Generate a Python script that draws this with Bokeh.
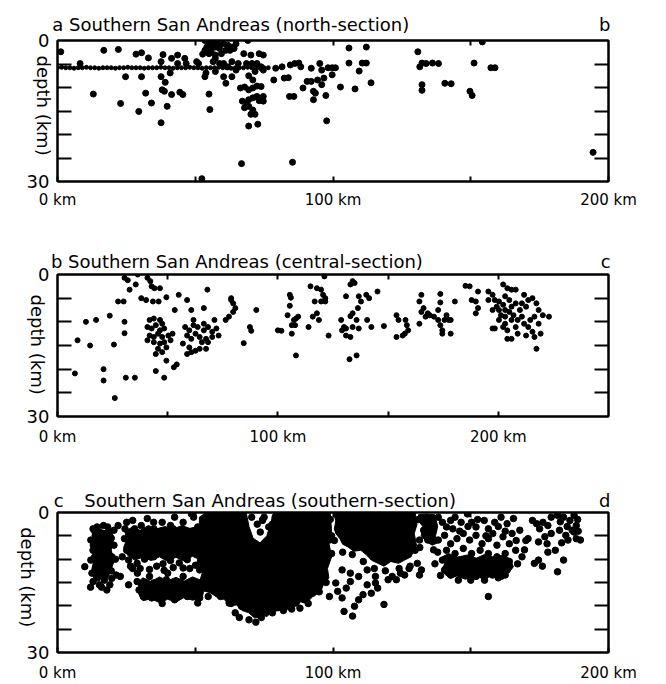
import math
from bokeh.plotting import figure
from bokeh.layouts import column
from bokeh.models import Range1d, FixedTicker, LinearAxis
from bokeh.embed import file_html
from bokeh.resources import INLINE

# ---------------- data (distance along section in km, depth in km) ----------------
# panel a : north section
a_km = [1.2, 8.2, 13.0, 16.8, 22.1, 22.9, 24.7, 28.5, 30.5, 33.0, 30.5, 32.0, 29.5, 34.1, 37.6, 37.6, 37.6, 38.3, 38.0, 39.1,
        38.8, 39.8, 40.9, 41.4, 41.4, 43.6, 43.6, 44.4, 46.2, 45.5, 46.7, 50.5, 51.2, 52.7, 53.5, 53.9, 55.0, 55.3, 52.4,
        53.5, 55.0, 56.5, 58.0, 54.2, 55.8, 57.3, 58.8, 60.3, 61.8, 63.3, 62.6, 59.5, 57.3, 55.0, 53.5, 55.8, 58.8, 61.1, 64.8, 64.1, 69.1,
        56.5, 57.3, 58.8, 60.3, 61.8, 63.3, 64.8, 65.6, 57.3, 60.3, 61.1, 63.3,
        67.6, 68.6, 70.2, 70.6, 71.7, 72.4, 73.2, 74.7, 73.9, 74.7, 69.4, 70.9,
        66.4, 67.9, 69.4, 70.9, 72.4, 73.9, 67.1, 68.6, 69.4, 70.9, 72.4, 73.2, 74.7, 74.7, 67.9, 69.4, 70.9, 70.2, 71.7, 66.8, 69.4, 72.7,
        78.5, 79.2, 81.5, 82.3, 83.8, 84.2, 85.8, 85.3, 84.5, 86.1, 87.6, 88.3, 89.1, 90.6, 92.1, 92.1, 92.9, 92.9, 93.6, 94.4,
        95.2, 95.9, 96.7, 97.4, 95.9, 98.2, 99.7, 100.9, 99.7, 97.7,
        102.7, 105.8, 105.8, 108.0, 109.5, 110.6, 112.1, 112.1, 113.8,
        130.8, 131.5, 132.3, 132.3, 132.3, 133.8, 136.1, 138.3, 140.6, 142.9, 149.7, 150.5, 151.2, 157.3, 158.8, 154.2, 194.4]
a_depth = [2.4, 4.9, 11.4, 2.1, 1.9, 13.4, 7.7, 2.9, 2.6, 3.7, 7.7, 11.2, 15.1, 13.3, 4.5, 7.7, 17.5, 3.0, 10.5, 8.9,
           10.8, 14.0, 6.9, 3.8, 11.5, 3.1, 4.9, 11.0, 3.8, 11.5, 4.9, 4.5, 4.9, 2.9, 7.7, 6.9, 11.4, 14.7, 29.4,
           0.0, 0.3, 0.7, 0.1, 1.4, 1.7, 1.4, 1.0, 0.7, 1.0, 1.4, 2.1, 2.8, 3.1, 2.8, 2.1, 2.4, 1.7, 2.1, 0.7, 1.7, 0.0,
           4.5, 3.8, 4.9, 4.9, 5.6, 4.5, 6.3, 4.9, 6.6, 7.7, 9.1, 7.7,
           2.8, 4.9, 3.1, 4.9, 6.6, 4.9, 2.8, 3.1, 5.6, 6.3, 7.5, 8.4,
           10.1, 9.9, 10.5, 10.1, 9.7, 9.8, 12.9, 13.3, 12.6, 12.2, 11.9, 12.8, 11.9, 12.9, 14.3, 14.0, 14.8, 15.7, 15.7, 26.2, 18.2, 17.8,
           8.4, 5.9, 5.6, 8.0, 7.9, 11.9, 11.9, 25.9, 5.2, 4.9, 4.8, 5.6, 10.1, 8.7, 8.7, 5.9, 10.8, 12.6, 11.2, 8.4,
           4.9, 6.3, 8.0, 11.7, 9.4, 5.8, 5.8, 5.8, 7.3, 17.1,
           9.9, 1.6, 4.8, 10.3, 6.5, 4.8, 4.8, 1.4, 9.0,
           2.4, 5.6, 9.4, 10.6, 4.8, 4.9, 4.8, 4.9, 9.1, 9.2, 10.8, 11.7, 4.8, 5.8, 5.8, 0.3, 23.8]
# the band of events fixed at ~5.8 km depth (panel a)
a_band_km = [0, 1.5, 3, 4.5, 6, 7.5, 9, 10.5, 12, 13.5, 15, 16.5, 18, 19.5, 21, 22.5, 24, 25.5, 27, 28.5,
             30, 31.5, 33, 34.5, 36, 37.5, 39, 40.5, 42, 43.5, 45, 46.5, 48, 49.5, 51, 52.5, 54, 55.5, 57, 58.5,
             60, 61.5, 63, 64.5, 66, 67.5, 69, 70.5, 72, 73.5, 75, 76.5]
a_band_depth = [5.8, 5.7, 5.8, 5.8, 5.9, 5.8, 5.8, 5.7, 5.8, 5.8, 5.9, 5.8, 5.8, 5.8, 5.9, 5.8, 5.8, 5.7, 5.8, 5.8,
                5.8, 5.9, 5.8, 5.8, 5.8, 5.7, 5.8, 5.8, 5.9, 5.8, 5.8, 5.8, 5.7, 5.8, 5.8, 5.9, 5.8, 5.8, 5.8, 5.7,
                5.8, 5.8, 5.9, 5.8, 5.8, 5.8, 5.7, 5.8, 5.8, 5.9, 5.8, 5.8]

# panel b : central section
b_km = [7.9, 9.1, 12.9, 14.8, 17.5, 20.9, 20.9, 23.7, 25.6, 26.0, 27.5, 30.0, 30.4, 30.4, 31.0, 35.1,
        30.4, 31.9, 32.7, 35.5, 36.4, 40.8, 42.1, 42.7, 44.0, 46.5, 38.0, 40.2, 43.3, 45.9, 49.4,
        41.8, 43.7, 46.5, 47.5, 40.8, 42.7, 44.6, 46.5, 48.4, 41.8, 43.7, 45.6, 47.5, 50.3, 40.8, 43.7, 46.5, 48.4, 45.6, 47.5, 44.6, 49.4, 51.3, 52.2,
        53.2, 55.0, 58.8, 60.7, 68.0, 66.4,
        57.9, 59.8, 61.7, 63.6, 58.8, 60.7, 62.6, 64.5, 66.4, 68.3, 70.2, 72.1, 71.2, 73.1, 67.4, 65.5, 68.3, 56.9, 59.8, 58.8,
        60.7, 62.6, 64.5, 67.4, 66.4, 61.7, 70.2,
        44.6, 48.4, 52.8, 54.1, 49.4,
        76.3, 78.8, 79.7, 80.7, 79.7, 77.8, 78.8, 84.5, 87.3, 87.9, 90.2, 100.0, 101.6, 105.4, 105.9, 105.4, 104.4, 107.3, 108.2, 106.3,
        107.8, 109.2, 106.3, 108.2,
        114.8, 117.7, 119.6, 116.7, 119.6, 121.5, 121.1, 120.5, 121.5, 115.8, 117.7, 118.6, 113.9, 123.0, 128.7, 130.0, 129.1, 130.9, 130.9, 132.9,
        132.9, 133.9, 130.9, 132.9, 133.9, 134.8, 136.7, 137.7, 136.3, 135.7, 136.7, 133.9, 140.5, 142.4, 140.1, 141.4, 145.2, 148.1, 132.5, 135.7,
        153.8, 154.7, 153.8, 157.6, 157.9, 158.5, 159.1, 156.6, 164.2, 165.1, 166.1, 164.2, 168.0, 168.9, 170.8, 172.7, 173.7, 174.6, 175.6, 176.5,
        177.5, 172.7, 173.7, 173.7, 180.3, 174.6, 178.4, 178.4, 167.0, 165.1,
        185.1, 187.0, 190.8, 187.9, 189.8, 190.8, 189.8, 195.5, 197.4, 198.4, 199.3, 197.4, 202.2, 204.1, 206.0, 207.9, 203.1, 205.0, 202.2, 200.3,
        201.2, 203.1, 205.0, 206.0, 203.1, 200.3, 198.4, 204.1, 207.9, 208.8, 210.7, 212.6, 213.6, 211.7, 215.5, 217.3, 218.3, 216.4, 214.5, 213.6,
        215.5, 212.6, 216.4, 219.2, 218.3, 220.2, 223.0, 217.3, 206.0, 208.8, 211.7, 202.2, 206.0, 207.9, 210.7, 200.3, 203.1, 206.9, 209.8, 195.5,
        204.1, 197.4]
b_depth = [20.9, 13.9, 10.0, 15.0, 9.6, 20.0, 22.4, 8.7, 14.8, 26.1, 5.7, 5.7, 10.0, 12.4, 21.8, 21.8,
           0.7, 1.2, 3.2, 2.1, 0.0, 0.7, 1.4, 2.5, 2.9, 2.9, 5.0, 5.4, 5.7, 5.7, 4.8,
           9.6, 9.3, 9.6, 10.4, 11.1, 11.4, 10.7, 11.8, 11.4, 12.9, 13.2, 12.5, 13.2, 12.9, 13.9, 14.3, 14.6, 14.3, 15.7, 16.4, 16.8, 15.4, 13.9, 12.5,
           7.5, 4.3, 5.4, 7.5, 3.2, 7.1,
           11.1, 11.8, 10.7, 11.1, 12.9, 13.6, 12.5, 13.2, 11.8, 11.1, 12.1, 11.4, 9.6, 12.9, 13.6, 14.3, 14.3, 14.6, 15.4, 16.8,
           16.4, 16.1, 15.7, 15.7, 10.4, 9.6, 13.2,
           20.4, 21.8, 19.6, 19.0, 18.2,
           9.6, 5.4, 6.1, 7.1, 7.9, 8.9, 5.0, 14.5, 11.1, 11.9, 7.5, 11.8, 11.9, 4.3, 4.9, 6.6, 8.6, 9.6, 9.3, 10.7,
           10.7, 8.9, 12.5, 17.1,
           2.5, 2.9, 3.2, 5.7, 5.7, 5.7, 0.4, 4.3, 5.0, 8.9, 8.2, 9.6, 11.1, 12.9, 9.6, 11.1, 11.8, 11.4, 12.9, 13.2,
           8.8, 8.2, 4.6, 2.1, 1.4, 1.8, 4.6, 5.7, 7.1, 9.6, 11.4, 11.1, 9.6, 11.1, 4.3, 5.0, 3.6, 10.9, 17.9, 17.1,
           8.6, 9.6, 13.2, 12.5, 9.6, 10.7, 11.8, 12.9, 5.7, 7.9, 7.1, 10.4, 8.2, 8.6, 8.9, 9.6, 10.7, 11.8, 9.6, 8.6,
           9.6, 7.5, 5.9, 4.1, 5.7, 12.5, 12.5, 9.6, 8.9, 4.3,
           2.4, 2.5, 3.6, 5.4, 5.7, 7.1, 8.2, 3.6, 4.3, 5.4, 6.8, 7.5, 2.1, 2.9, 3.2, 3.2, 4.6, 5.4, 6.4, 7.5,
           8.6, 8.9, 7.9, 9.6, 10.4, 9.6, 11.4, 11.8, 11.1, 9.6, 8.9, 6.8, 5.4, 4.3, 5.0, 6.1, 7.5, 8.9, 9.6, 11.1,
           12.1, 12.9, 13.2, 12.5, 10.4, 8.6, 8.9, 15.7, 13.6, 12.5, 10.4, 11.1, 6.8, 6.1, 6.1, 5.7, 7.5, 8.6, 7.5, 5.4,
           13.6, 11.4]

# panel c : southern section (individual events)
c_km = [9.9, 12.9, 14.4, 16.7, 18.2, 13.7, 15.9, 12.1, 14.4, 16.7, 12.9, 15.2, 17.5, 12.1, 14.4, 16.7, 13.7, 15.9, 18.2, 12.9,
        15.2, 17.9, 19.7, 21.3, 22.8, 20.5, 22.0, 18.2, 19.7, 25.8,
        25.1, 27.3, 30.4, 32.6, 34.9, 38.0, 41.0, 42.5, 45.6, 48.6, 49.4, 50.9, 53.2,
        24.3, 27.1, 30.6, 33.2, 36.5, 39.3, 42.7, 45.4, 48.8, 51.5, 53.9,
        25.1, 27.6, 30.1, 33.7, 36.2, 39.8, 42.3, 45.9, 48.2, 51.9, 25.8, 28.9, 31.6, 34.9, 38.3, 41.0, 44.2, 47.1, 50.1, 53.2,
        27.3, 33.4, 38.7, 45.6, 51.6,
        29.6, 31.1, 34.2, 38.0, 42.5, 47.1, 51.6, 50.9, 54.7, 28.9, 33.4, 39.5, 45.6, 53.2, 34.9, 42.5, 48.6,
        56.2, 59.2, 62.3, 57.7, 60.7, 63.8, 59.2, 62.3, 64.5, 66.8, 69.1, 71.4, 72.9, 54.7, 57.7, 66.8, 68.3,
        79.0, 82.0, 85.0, 88.1, 91.1, 94.2, 97.2, 80.5, 86.6, 92.6, 97.2, 77.4, 98.7, 75.9, 99.5, 74.4, 76.7, 73.6,
        77.4, 80.5, 83.5, 86.6, 89.6, 92.6, 85.0, 75.9,
        98.7, 101.0, 101.7, 103.3, 104.8, 106.3, 104.0, 107.1, 107.8, 109.3, 110.9, 112.4, 113.9, 115.4, 116.2, 118.5, 120.0, 121.5, 123.0, 124.5,
        126.0, 127.6, 103.3, 106.3, 109.3, 112.4, 115.4, 130.6, 131.4, 132.1, 129.8, 131.4, 132.9,
        134.4, 135.2, 134.4, 135.9, 138.2, 139.7, 141.2, 142.7, 144.3, 146.5, 148.8, 150.3, 151.9, 154.9, 156.4, 158.7, 161.0, 163.2, 165.5, 167.8,
        138.2, 140.5, 142.7, 145.0, 147.3, 149.6, 151.9, 154.1, 156.4, 159.5, 161.7, 164.0, 166.3, 168.6,
        141.2, 144.3, 147.3, 150.3, 153.4, 156.4, 159.5, 162.5,
        139.7, 142.7, 145.8, 148.8, 151.9, 154.9, 157.9, 161.0, 164.0,
        140.5, 142.7, 145.8, 148.8, 151.9, 154.9, 157.9, 161.0, 163.2, 156.4, 162.5,
        172.4, 173.9, 176.2, 179.2, 181.5, 183.7, 186.0, 187.5, 188.3, 186.8, 184.5, 182.2, 179.2, 176.9, 174.6, 177.7, 180.7, 185.3, 188.3, 189.8,
        173.1, 174.6, 181.5, 183.7, 170.8]
c_depth = [11.6, 3.5, 3.1, 2.8, 3.1, 4.9, 4.5, 5.9, 6.7, 5.9, 8.1, 8.8, 8.1, 10.2, 10.9, 10.2, 12.3, 13.4, 12.3, 14.8,
           15.5, 16.6, 14.1, 13.4, 13.7, 3.8, 2.8, 7.4, 9.5, 15.5,
           2.1, 1.7, 2.8, 1.3, 2.1, 2.1, 2.8, 1.0, 2.1, 0.3, 1.0, 3.1, 2.1,
           5.6, 5.5, 5.7, 5.6, 5.5, 5.6, 5.7, 5.6, 5.5, 5.8, 5.6,
           8.1, 8.9, 7.8, 8.6, 8.3, 9.0, 7.9, 8.7, 8.2, 8.9, 10.2, 10.9, 10.0, 9.5, 11.0, 10.3, 10.8, 10.1, 11.3, 10.2,
           12.0, 12.2, 12.4, 11.9, 12.3,
           16.6, 18.0, 18.3, 19.5, 18.7, 18.0, 18.3, 19.4, 18.0, 14.8, 13.7, 14.4, 13.7, 14.8, 15.1, 15.9, 16.6,
           11.6, 12.3, 13.7, 14.4, 15.9, 17.3, 18.0, 19.4, 21.5, 20.1, 18.7, 20.8, 21.9, 13.7, 16.6, 16.6, 15.1,
           1.0, 0.6, 1.7, 0.3, 1.0, 1.7, 0.6, 3.1, 3.8, 3.5, 3.8, 5.9, 5.9, 8.1, 8.8, 1.7, 3.1, 4.2,
           18.0, 19.0, 20.1, 19.4, 18.7, 17.3, 20.7, 20.1,
           18.0, 15.1, 16.9, 18.3, 16.2, 14.8, 21.2, 22.2, 20.1, 18.7, 17.6, 15.5, 17.3, 15.1, 16.2, 19.7, 14.4, 13.7, 14.4, 13.0,
           13.4, 12.0, 12.3, 13.0, 13.7, 12.3, 13.7, 10.9, 13.4, 12.3, 8.1, 5.9, 3.8,
           1.7, 3.8, 5.9, 4.5, 1.0, 2.1, 3.1, 1.7, 1.0, 2.1, 0.3, 2.1, 3.1, 1.7, 3.5, 2.1, 1.0, 2.4, 1.3, 3.8,
           5.9, 4.9, 6.7, 5.6, 4.5, 5.9, 4.9, 6.7, 5.6, 7.0, 5.2, 6.7, 8.1, 9.5,
           8.1, 8.8, 7.7, 8.8, 8.1, 8.8, 9.5, 8.8,
           10.2, 10.9, 10.2, 11.3, 10.5, 11.3, 10.9, 11.6, 10.5,
           12.3, 13.4, 13.0, 12.7, 13.7, 13.0, 13.4, 13.7, 12.3, 18.0, 13.4,
           1.7, 2.4, 2.1, 1.0, 0.6, 1.0, 1.7, 0.6, 2.8, 3.8, 4.9, 3.8, 4.5, 5.2, 6.3, 6.7, 8.1, 5.9, 5.6, 5.9,
           10.9, 10.2, 12.7, 10.2, 5.6]
c_more_km = [13.0, 15.0, 17.0, 13.5, 16.0, 18.5, 14.0, 16.5, 12.5, 14.5, 17.0, 19.0, 13.5, 17.5, 19.5, 20.5, 21.0, 19.5, 16.0, 12.0,
             24.5, 28.0, 31.5, 35.0, 38.5, 42.0, 46.0, 50.0, 53.0, 26.0, 29.5, 32.0, 35.5, 38.0, 41.5, 44.5, 47.5, 50.5, 53.5, 55.5,
             23.5, 26.5, 30.0, 36.0, 42.0, 48.0, 54.0, 29.0, 40.0, 56.0,
             52.0, 56.0, 60.0, 64.0, 75.0, 78.0, 83.5, 89.0, 95.5, 99.0, 99.5, 76.0, 73.5, 72.0, 69.0, 63.0, 66.0, 69.5, 72.0, 74.0,
             78.0, 82.0, 88.0, 91.0, 95.0, 97.5,
             136.5, 138.0, 137.0, 139.0, 143.5, 146.0, 149.0, 152.5, 155.5, 158.0, 160.0, 162.5, 165.0, 166.5, 143.0, 150.0, 155.0, 160.0,
             145.5, 167.0, 169.5, 170.0,
             175.0, 178.0, 182.5, 185.0, 188.8, 187.5, 189.0, 183.0, 178.0, 176.0,
             100.5, 103.5, 107.0, 111.0, 115.0, 119.0, 124.0, 128.0, 131.5, 131.0,
             72.5, 74.5, 70.5]
c_more_depth = [7.0, 7.5, 7.0, 9.5, 9.5, 10.5, 12.0, 12.0, 13.0, 14.0, 14.5, 15.5, 4.0, 4.5, 5.5, 7.0, 10.0, 12.5, 16.0, 16.0,
                3.5, 3.5, 4.0, 3.5, 4.0, 3.5, 4.0, 4.5, 4.0, 7.0, 6.8, 7.2, 7.0, 6.5, 7.0, 6.8, 7.2, 6.9, 7.5, 8.5,
                9.5, 11.5, 12.0, 11.5, 11.8, 12.0, 12.5, 13.0, 13.0, 10.0,
                9.5, 9.0, 10.5, 11.5, 1.0, 2.5, 2.5, 2.5, 2.5, 1.5, 5.0, 6.5, 7.5, 10.0, 12.0, 19.5, 22.5, 23.0, 23.5, 22.5,
                21.5, 21.0, 20.5, 19.5, 17.0, 15.0,
                8.0, 8.5, 11.0, 13.5, 3.5, 4.0, 3.0, 1.5, 5.0, 4.5, 3.0, 4.0, 4.5, 6.0, 12.5, 14.5, 14.5, 14.0,
                14.5, 11.0, 8.0, 6.0,
                3.5, 2.8, 2.0, 3.0, 1.5, 4.2, 4.0, 6.5, 8.5, 11.5,
                6.0, 8.5, 9.0, 10.5, 12.0, 12.5, 12.0, 11.5, 7.5, 1.5,
                2.5, 1.5, 1.0]
# panel c : outlines of the saturated (solid black) clusters
c_blob_km = [
    [51.5, 54.0, 68.5, 69.5, 71.0, 73.5, 76.0, 77.5, 78.5, 99.0, 99.5, 98.5, 99.5, 98.0, 98.5, 96.5, 95.5, 93.0, 91.0, 88.0,
     86.0, 83.0, 81.0, 78.0, 76.0, 73.5, 71.5, 69.5, 67.0, 65.0, 62.5, 60.5, 58.0, 55.5, 53.0, 51.5, 52.5, 50.5, 51.5, 50.5, 51.5],
    [100.2, 129.8, 130.5, 129.5, 130.3, 128.3, 126.0, 123.8, 121.0, 118.5, 116.0, 113.9, 112.0, 110.1, 107.5, 105.5, 103.5, 102.5,
     101.0, 100.5, 101.0],
    [28.9, 31.0, 34.0, 37.0, 40.0, 43.0, 46.0, 49.0, 52.0, 54.0, 53.0, 52.5, 49.0, 46.0, 43.0, 40.0, 37.0, 34.0, 31.0, 29.5, 30.0],
    [24.5, 27.0, 30.0, 33.0, 36.0, 39.0, 42.0, 45.0, 48.0, 51.0, 53.5, 54.5, 53.5, 54.5, 52.0, 49.0, 46.0, 43.0, 40.0, 37.0,
     34.0, 31.0, 28.0, 25.5, 24.0, 25.0],
    [13.0, 15.0, 17.0, 19.0, 20.5, 19.5, 20.5, 19.0, 17.5, 15.5, 13.5, 12.5, 13.5, 12.5],
    [139.7, 142.0, 145.0, 148.8, 152.0, 155.0, 157.9, 161.0, 164.0, 165.5, 164.0, 162.5, 159.0, 155.0, 151.9, 148.0, 145.0, 142.7,
     140.5, 139.7, 140.5],
    [131.0, 134.0, 137.0, 138.0, 137.2, 138.0, 136.0, 134.0, 132.0, 132.6, 131.3],
]
c_blob_depth = [
    [1.0, 0.0, 0.0, 3.0, 5.5, 6.5, 5.0, 2.0, 0.0, 0.0, 4.0, 6.5, 9.5, 12.0, 14.0, 15.5, 17.0, 17.8, 19.0, 19.2,
     20.2, 19.8, 21.0, 21.2, 22.3, 21.8, 22.6, 21.5, 21.0, 19.8, 20.0, 18.6, 18.2, 17.2, 16.8, 15.0, 13.0, 11.0, 8.5, 6.0, 3.5],
    [0.0, 0.0, 2.5, 4.5, 7.0, 9.5, 10.2, 10.9, 10.5, 11.5, 10.8, 10.2, 9.0, 8.1, 8.3, 7.4, 6.8, 5.6,
     4.5, 3.5, 1.8],
    [15.1, 14.0, 14.8, 13.8, 14.6, 13.9, 14.7, 13.8, 14.5, 15.5, 17.0, 18.3, 18.8, 18.2, 19.2, 18.6, 19.3, 18.5, 18.9, 17.5, 16.3],
    [4.0, 3.2, 3.8, 2.8, 3.5, 3.0, 3.6, 2.8, 3.4, 3.0, 4.2, 6.0, 7.5, 9.0, 10.2, 9.4, 10.4, 9.6, 10.5, 9.5,
     10.3, 9.6, 10.2, 9.2, 7.5, 6.0],
    [4.5, 3.3, 4.0, 3.2, 5.5, 8.0, 10.5, 13.0, 14.8, 13.8, 15.0, 12.0, 9.5, 7.0],
    [9.5, 8.8, 9.6, 9.1, 9.8, 9.0, 9.5, 9.2, 9.8, 11.6, 12.8, 13.7, 13.3, 14.2, 13.8, 14.3, 13.6, 14.1,
     13.2, 12.3, 11.0],
    [0.5, 0.3, 0.5, 3.0, 5.0, 6.5, 7.0, 6.3, 5.0, 3.0, 2.0],
]
assert len(a_km) == len(a_depth) and len(b_km) == len(b_depth)
assert len(c_km) == len(c_depth) and len(c_more_km) == len(c_more_depth)
assert all(len(u) == len(v) for u, v in zip(c_blob_km, c_blob_depth))

# axis texts
depth_ticks = [0, 30]
depth_minor = [5, 10, 15, 20, 25]
dist_ticks = [0, 100, 200]
dist_minor = [50, 150]
dist_labels = {0: "0 km", 100: "100 km", 200: "200 km"}
titles = {
    "a": {62.9: "a Southern San Andreas (north-section)", 198.6: "b"},
    "b": {81.4: "b Southern San Andreas (central-section)", 248.7: "c"},
    "c": {0.4: "c", 77.2: "Southern San Andreas (southern-section)", 198.6: "d"},
}
# the rotated label is anchored at its lower end
depth_label_pos = {"a": 24.5, "b": 25.4, "c": 24.6}

FONT = "DejaVu Sans"


def make_panel(key, w, h, bl, br, bt, bb, xmax, top_minor, bottom_stand, top_stand, depth_stand):
    p = figure(width=w, height=h, output_backend="svg", toolbar_location=None,
               x_range=Range1d(0, xmax), y_range=Range1d(30, 0),
               x_axis_location=None, y_axis_location=None,
               min_border_left=bl, min_border_right=br, min_border_top=bt, min_border_bottom=bb)
    p.xgrid.visible = False
    p.ygrid.visible = False
    p.outline_line_color = "black"
    p.outline_line_width = 2

    # bottom axis: distance labels
    ax = LinearAxis(ticker=FixedTicker(ticks=dist_ticks, minor_ticks=dist_minor))
    ax.axis_line_width = 2
    ax.major_tick_in, ax.major_tick_out = 5, 0
    ax.minor_tick_in, ax.minor_tick_out = 5, 0
    ax.major_tick_line_width = 2
    ax.minor_tick_line_width = 2
    ax.major_label_overrides = dist_labels
    ax.major_label_text_font = FONT
    ax.major_label_text_font_size = "15px"
    ax.major_label_text_color = "black"
    ax.major_label_standoff = bottom_stand
    p.add_layout(ax, "below")

    # top axis: inward ticks, panel title and end-point letters as its labels
    tt = titles[key]
    ax = LinearAxis(ticker=FixedTicker(ticks=list(tt.keys()), minor_ticks=top_minor))
    ax.axis_line_width = 2
    ax.major_tick_in, ax.major_tick_out = 0, 0
    ax.minor_tick_in, ax.minor_tick_out = 5, 0
    ax.minor_tick_line_width = 2
    ax.major_label_overrides = tt
    ax.major_label_text_font = FONT
    ax.major_label_text_font_size = "18px"
    ax.major_label_text_color = "black"
    ax.major_label_standoff = top_stand
    p.add_layout(ax, "above")

    # left axis: depth 0 / 30 labels and inward ticks
    ax = LinearAxis(ticker=FixedTicker(ticks=depth_ticks, minor_ticks=depth_minor))
    ax.axis_line_width = 2
    ax.major_tick_in, ax.major_tick_out = 0, 0
    ax.minor_tick_in, ax.minor_tick_out = 14, 0
    ax.minor_tick_line_width = 2
    ax.major_label_text_font = FONT
    ax.major_label_text_font_size = "18px"
    ax.major_label_text_color = "black"
    ax.major_label_standoff = 8
    p.add_layout(ax, "left")

    # outer left axis carrying only the rotated "depth (km)" title
    ax = LinearAxis(ticker=FixedTicker(ticks=[depth_label_pos[key]], minor_ticks=[]))
    ax.axis_line_color = None
    ax.major_tick_line_color = None
    ax.minor_tick_line_color = None
    ax.major_label_overrides = {depth_label_pos[key]: "depth (km)"}
    ax.major_label_orientation = -math.pi / 2
    ax.major_label_text_font = FONT
    ax.major_label_text_font_size = "18px"
    ax.major_label_text_color = "black"
    ax.major_label_standoff = depth_stand
    p.add_layout(ax, "left")

    # right axis: inward ticks only
    ax = LinearAxis(ticker=FixedTicker(ticks=[], minor_ticks=depth_minor))
    ax.axis_line_width = 2
    ax.minor_tick_in, ax.minor_tick_out = 14, 0
    ax.minor_tick_line_width = 2
    p.add_layout(ax, "right")
    return p


pa = make_panel("a", 666, 230, 57, 53, 40, 49, 200, [50, 100, 150], 9, 6, -26)
pa.scatter(a_band_km, a_band_depth, size=4, color="black")
pa.scatter(a_km, a_depth, size=6, color="black")

pb = make_panel("b", 666, 228, 55, 55, 44, 42, 250, [50, 100, 150, 200], 11, 3, -20)
pb.scatter(b_km, b_depth, size=5, color="black")

pc = make_panel("c", 666, 226, 51, 58, 54, 32, 200, [50, 100, 150], 11, 2, -10)
pc.patches(c_blob_km, c_blob_depth, color="black")
pc.scatter(c_km, c_depth, size=6.5, color="black")
pc.scatter(c_more_km, c_more_depth, size=6.5, color="black")

layout = column(pa, pb, pc)
open("out.html", "w").write(file_html(layout, INLINE))
